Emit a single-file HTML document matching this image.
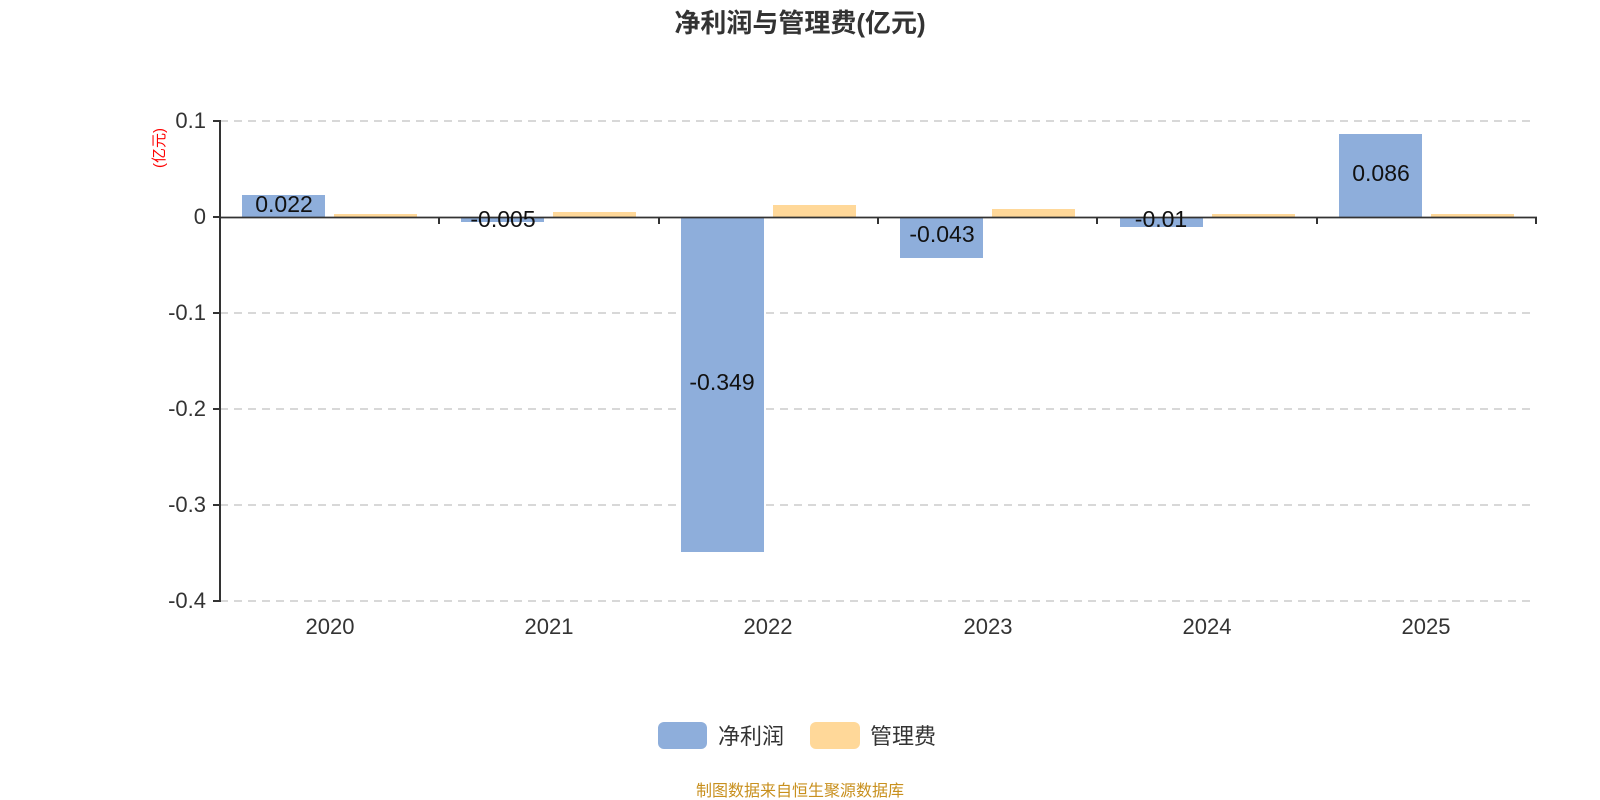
<!DOCTYPE html>
<html><head><meta charset="utf-8"><style>
html,body{margin:0;padding:0;background:#fff;}
svg{display:block;font-family:"Liberation Sans","Noto Sans CJK SC",sans-serif;}
</style></head><body>
<svg width="1600" height="800" viewBox="0 0 1600 800">
<text x="800" y="32" text-anchor="middle" font-size="26" font-weight="bold" fill="#333">净利润与管理费(亿元)</text>
<g stroke="#ccc" stroke-width="1.5" stroke-dasharray="8,6">
<line x1="220" y1="121" x2="1536" y2="121"/>
<line x1="220" y1="313" x2="1536" y2="313"/>
<line x1="220" y1="409" x2="1536" y2="409"/>
<line x1="220" y1="505" x2="1536" y2="505"/>
<line x1="220" y1="601" x2="1536" y2="601"/>
</g>
<g fill="#8eaedb">
<rect x="242" y="195" width="83" height="22"/>
<rect x="461" y="217" width="83" height="5"/>
<rect x="681" y="217" width="83" height="335"/>
<rect x="900" y="217" width="83" height="41"/>
<rect x="1120" y="217" width="83" height="10"/>
<rect x="1339" y="134" width="83" height="83"/>
</g>
<g fill="#ffd899">
<rect x="334" y="214" width="83" height="3"/>
<rect x="553" y="212" width="83" height="5"/>
<rect x="773" y="205" width="83" height="12"/>
<rect x="992" y="209" width="83" height="8"/>
<rect x="1212" y="214" width="83" height="3"/>
<rect x="1431" y="214" width="83" height="3"/>
</g>
<g stroke="#333" stroke-width="2">
<line x1="220" y1="120" x2="220" y2="602"/>
<line x1="213" y1="121" x2="220" y2="121"/>
<line x1="213" y1="217" x2="220" y2="217"/>
<line x1="213" y1="313" x2="220" y2="313"/>
<line x1="213" y1="409" x2="220" y2="409"/>
<line x1="213" y1="505" x2="220" y2="505"/>
<line x1="213" y1="601" x2="220" y2="601"/>
<line x1="220" y1="217.5" x2="1537" y2="217.5" stroke-width="1.8"/>
<line x1="439" y1="217" x2="439" y2="224"/>
<line x1="659" y1="217" x2="659" y2="224"/>
<line x1="878" y1="217" x2="878" y2="224"/>
<line x1="1097" y1="217" x2="1097" y2="224"/>
<line x1="1317" y1="217" x2="1317" y2="224"/>
<line x1="1536" y1="217" x2="1536" y2="224"/>
</g>
<g font-size="22" fill="#333" text-anchor="end">
<text x="206" y="128">0.1</text>
<text x="206" y="224">0</text>
<text x="206" y="320">-0.1</text>
<text x="206" y="416">-0.2</text>
<text x="206" y="512">-0.3</text>
<text x="206" y="608">-0.4</text>
</g>
<g font-size="22" fill="#333" text-anchor="middle">
<text x="330" y="634">2020</text>
<text x="549" y="634">2021</text>
<text x="768" y="634">2022</text>
<text x="988" y="634">2023</text>
<text x="1207" y="634">2024</text>
<text x="1426" y="634">2025</text>
</g>
<g font-size="23" fill="#111" text-anchor="middle">
<text x="284" y="212">0.022</text>
<text x="503" y="227">-0.005</text>
<text x="722" y="390">-0.349</text>
<text x="942" y="242">-0.043</text>
<text x="1161" y="227">-0.01</text>
<text x="1381" y="181">0.086</text>
</g>
<text transform="translate(164,148) rotate(-90)" font-size="15" fill="#f00" text-anchor="middle">(亿元)</text>
<rect x="658" y="722" width="49" height="27" rx="6" fill="#8eaedb"/>
<text x="718" y="744" font-size="22" fill="#333">净利润</text>
<rect x="810" y="722" width="50" height="27" rx="6" fill="#ffd899"/>
<text x="870" y="744" font-size="22" fill="#333">管理费</text>
<text x="800" y="796" font-size="16" fill="#c8901e" text-anchor="middle">制图数据来自恒生聚源数据库</text>
</svg>
</body></html>
